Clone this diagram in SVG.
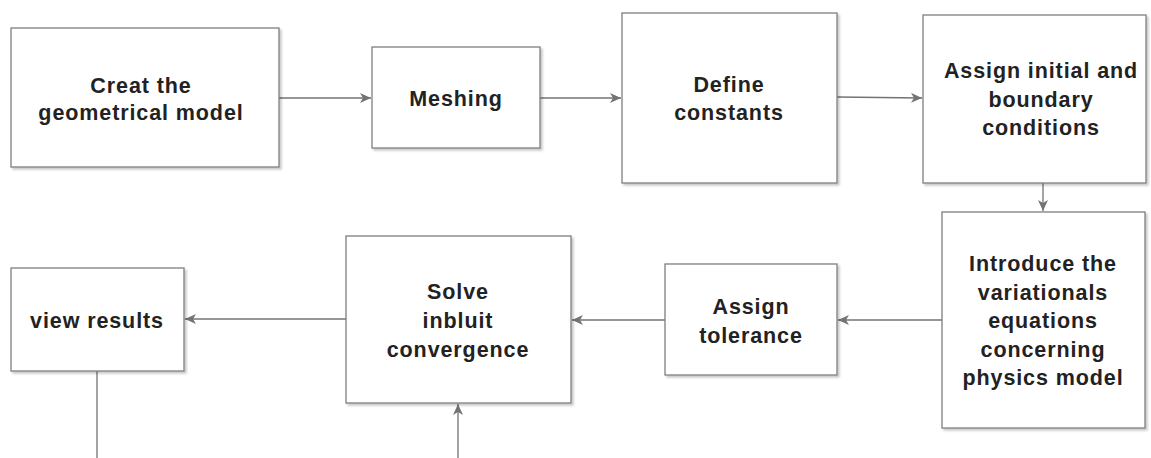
<svg xmlns="http://www.w3.org/2000/svg" width="1151" height="458" viewBox="0 0 1151 458">
<style>
.box{fill:#fff;stroke:#7f7f7f;stroke-width:1.3;filter:url(#sh)}
.t{font-family:"Liberation Sans",Arial,sans-serif;font-weight:bold;font-size:21.5px;letter-spacing:0.9px;fill:#222;text-anchor:middle}
.c{fill:none;stroke:#737373;stroke-width:1.3}
</style>
<defs>
<filter id="sh" x="-10%" y="-10%" width="120%" height="120%">
<feDropShadow dx="2" dy="2" stdDeviation="1" flood-color="#000" flood-opacity="0.22"/>
</filter>
<marker id="ah" markerWidth="12" markerHeight="10" refX="11" refY="5" orient="auto" markerUnits="userSpaceOnUse">
<path d="M0,0 L11,5 L0,10 L3,5 Z" fill="#737373"/>
</marker>
</defs>
<g id="connectors">
<path class="c" d="M279,98 H371" marker-end="url(#ah)"/>
<path class="c" d="M540,98 H621" marker-end="url(#ah)"/>
<path class="c" d="M837,97 L922,98" marker-end="url(#ah)"/>
<path class="c" d="M1043,183 V211" marker-end="url(#ah)"/>
<path class="c" d="M942,320 H838" marker-end="url(#ah)"/>
<path class="c" d="M665,320 H572" marker-end="url(#ah)"/>
<path class="c" d="M346,319 H185" marker-end="url(#ah)"/>
<path class="c" d="M97,371 V458"/>
<path class="c" d="M458,458 V404" marker-end="url(#ah)"/>
</g>
<g id="n1"><rect class="box" x="11" y="28" width="268" height="139"/>
<text class="t" x="141" y="93">Creat the</text><text class="t" x="141" y="120">geometrical model</text></g>
<g id="n2"><rect class="box" x="372" y="47" width="168" height="101"/>
<text class="t" x="456" y="106">Meshing</text></g>
<g id="n3"><rect class="box" x="622" y="13" width="215" height="170"/>
<text class="t" x="729" y="92">Define</text><text class="t" x="729" y="120">constants</text></g>
<g id="n4"><rect class="box" x="923" y="15" width="223" height="168"/>
<text class="t" x="1041" y="78">Assign initial and</text><text class="t" x="1041" y="107">boundary</text><text class="t" x="1041" y="135">conditions</text></g>
<g id="n5"><rect class="box" x="942" y="212" width="203" height="216"/>
<text class="t" x="1043" y="271">Introduce the</text><text class="t" x="1043" y="300">variationals</text><text class="t" x="1043" y="328">equations</text><text class="t" x="1043" y="357">concerning</text><text class="t" x="1043" y="385">physics model</text></g>
<g id="n6"><rect class="box" x="665" y="264" width="172" height="111"/>
<text class="t" x="751" y="314">Assign</text><text class="t" x="751" y="343">tolerance</text></g>
<g id="n7"><rect class="box" x="346" y="236" width="225" height="167"/>
<text class="t" x="458" y="299">Solve</text><text class="t" x="458" y="328">inbluit</text><text class="t" x="458" y="357">convergence</text></g>
<g id="n8"><rect class="box" x="11" y="268" width="173" height="103"/>
<text class="t" x="97" y="328">view results</text></g>
</svg>
